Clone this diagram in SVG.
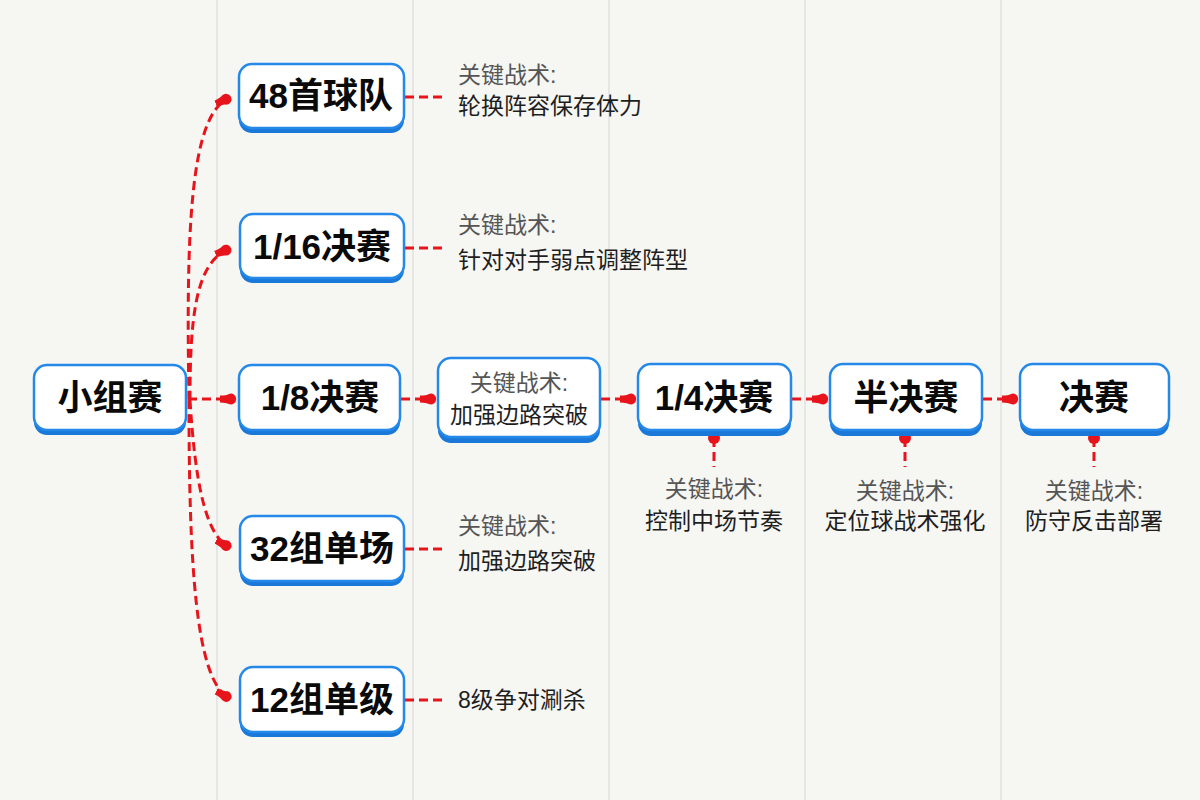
<svg xmlns="http://www.w3.org/2000/svg" width="1200" height="800" viewBox="0 0 1200 800">
<defs>
<style>
.bg{fill:#f6f6f3}
.grid{stroke:#e0e0e0;stroke-width:1.5}
.sh{fill:#1a78d8}
.box{fill:#ffffff;stroke:#2589ea;stroke-width:2.5}
.t{font-family:"Liberation Sans","Noto Sans CJK SC",sans-serif;font-weight:bold;font-size:35px;fill:#0a0a0a;text-anchor:middle}
.h{font-family:"Liberation Sans","Noto Sans CJK SC",sans-serif;font-size:23px;fill:#555555}
.b{font-family:"Liberation Sans","Noto Sans CJK SC",sans-serif;font-size:23px;fill:#1e1e1e}
.c{text-anchor:middle}
.ln{fill:none;stroke:#e8141c;stroke-width:3;stroke-dasharray:9 5}
.dot{fill:#e8141c}
</style>
<marker id="m" viewBox="0 0 10 10" refX="8.5" refY="5" markerWidth="17" markerHeight="17" markerUnits="userSpaceOnUse" orient="auto">
<path d="M0,3 Q4,3 5.5,2 A3.2,3.2 0 1 1 5.5,8 Q4,7 0,7 Z" fill="#e8141c"/>
</marker>
</defs>
<rect class="bg" x="0" y="0" width="1200" height="800"/>
<g id="grid">
<line class="grid" x1="217" y1="0" x2="217" y2="800"/>
<line class="grid" x1="413" y1="0" x2="413" y2="800"/>
<line class="grid" x1="609" y1="0" x2="609" y2="800"/>
<line class="grid" x1="805" y1="0" x2="805" y2="800"/>
<line class="grid" x1="1001" y1="0" x2="1001" y2="800"/>
</g>
<g id="connectors">
<path class="ln" d="M189,400 C186,230 190,115 229,98" marker-end="url(#m)"/>
<path class="ln" d="M190,400 C190,320 195,262 229,249" marker-end="url(#m)"/>
<path class="ln" d="M190,400 C195,480 205,535 229,547" marker-end="url(#m)"/>
<path class="ln" d="M189,400 C189,560 195,680 229,698" marker-end="url(#m)"/>
<path class="ln" d="M188,399 L234,399" marker-end="url(#m)"/>
<path class="ln" d="M401,399 L434,399" marker-end="url(#m)"/>
<path class="ln" d="M601,399 L634,399" marker-end="url(#m)"/>
<path class="ln" d="M792,399 L826,399" marker-end="url(#m)"/>
<path class="ln" d="M983,399 L1016,399" marker-end="url(#m)"/>
<path class="ln" d="M405,97 L442,97"/>
<path class="ln" d="M405,248 L442,248"/>
<path class="ln" d="M405,549 L442,549"/>
<path class="ln" d="M405,700 L442,700"/>
<path class="ln" d="M714,438 L714,467"/>
<path class="ln" d="M905,438 L905,467"/>
<path class="ln" d="M1094,438 L1094,467"/>
<circle class="dot" cx="714" cy="438" r="6"/>
<circle class="dot" cx="905" cy="438" r="6"/>
<circle class="dot" cx="1094" cy="438" r="6"/>
</g>
<g id="n-group">
<rect class="sh" x="34" y="370" width="152" height="65" rx="13"/>
<rect class="box" x="34" y="365" width="152" height="65" rx="13"/>
<text class="t" x="110" y="410">小组赛</text>
</g>
<g id="n-48">
<rect class="sh" x="239" y="69" width="165" height="64" rx="13"/>
<rect class="box" x="239" y="64" width="165" height="64" rx="13"/>
<text class="t" x="321" y="108">48首球队</text>
</g>
<g id="n-16">
<rect class="sh" x="240" y="219" width="164" height="64" rx="13"/>
<rect class="box" x="240" y="214" width="164" height="64" rx="13"/>
<text class="t" x="322" y="259">1/16决赛</text>
</g>
<g id="n-8">
<rect class="sh" x="239" y="370" width="161" height="65" rx="13"/>
<rect class="box" x="239" y="365" width="161" height="65" rx="13"/>
<text class="t" x="320" y="410">1/8决赛</text>
</g>
<g id="n-32">
<rect class="sh" x="240" y="521" width="164" height="65" rx="13"/>
<rect class="box" x="240" y="516" width="164" height="65" rx="13"/>
<text class="t" x="322" y="561">32组单场</text>
</g>
<g id="n-12">
<rect class="sh" x="240" y="672" width="164" height="65" rx="13"/>
<rect class="box" x="240" y="667" width="164" height="65" rx="13"/>
<text class="t" x="322" y="712">12组单级</text>
</g>
<g id="n-tactic">
<rect class="sh" x="438" y="364" width="162" height="79" rx="13"/>
<rect class="box" x="438" y="358" width="162" height="79" rx="13"/>
<text class="h c" x="519" y="391" font-size="22" fill="#444">关键战术:</text>
<text class="b c" x="519" y="423" font-size="22">加强边路突破</text>
</g>
<g id="n-4">
<rect class="sh" x="638" y="370" width="153" height="66" rx="13"/>
<rect class="box" x="638" y="364" width="153" height="66" rx="13"/>
<text class="t" x="714" y="410">1/4决赛</text>
</g>
<g id="n-semi">
<rect class="sh" x="830" y="370" width="152" height="66" rx="13"/>
<rect class="box" x="830" y="364" width="152" height="66" rx="13"/>
<text class="t" x="906" y="410">半决赛</text>
</g>
<g id="n-final">
<rect class="sh" x="1020" y="370" width="149" height="66" rx="13"/>
<rect class="box" x="1020" y="364" width="149" height="66" rx="13"/>
<text class="t" x="1094" y="410">决赛</text>
</g>
<g id="notes">
<text class="h" x="458" y="83">关键战术:</text>
<text class="b" x="458" y="114">轮换阵容保存体力</text>
<text class="h" x="458" y="233">关键战术:</text>
<text class="b" x="458" y="268">针对对手弱点调整阵型</text>
<text class="h" x="458" y="534">关键战术:</text>
<text class="b" x="458" y="569">加强边路突破</text>
<text class="b" x="458" y="708">8级争对涮杀</text>
<text class="h c" x="714" y="497" font-size="24">关键战术:</text>
<text class="b c" x="714" y="529" font-size="24">控制中场节奏</text>
<text class="h c" x="905" y="499" font-size="24">关键战术:</text>
<text class="b c" x="905" y="529" font-size="24">定位球战术强化</text>
<text class="h c" x="1094" y="499" font-size="24">关键战术:</text>
<text class="b c" x="1094" y="529" font-size="24">防守反击部署</text>
</g>
</svg>
